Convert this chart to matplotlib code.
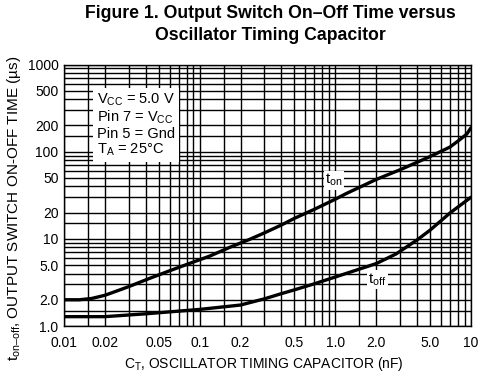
import numpy as np
import matplotlib
matplotlib.use("Agg")
import matplotlib.pyplot as plt
from matplotlib.ticker import FixedLocator, NullFormatter

plt.rcParams['font.family'] = ['Liberation Sans', 'DejaVu Sans']
plt.rcParams['mathtext.fontset'] = 'custom'
plt.rcParams['mathtext.rm'] = 'Liberation Sans'
plt.rcParams['mathtext.it'] = 'Liberation Sans'

# values
c_on = [0.01, 0.013, 0.016, 0.02, 0.025, 0.03, 0.043, 0.06, 0.085, 0.119, 0.167,
        0.235, 0.3, 0.4, 0.5, 0.7, 1.0, 1.2, 2.0, 3.0, 5.0, 7.0, 8.2, 9.3, 10.0]
t_on = [2.0, 2.0, 2.07, 2.25, 2.55, 2.83, 3.53, 4.3, 5.25, 6.35, 8.0,
        9.9, 11.7, 14.4, 17.2, 21.8, 28.5, 33, 48, 62, 88, 113, 136, 159, 188]

c_off = [0.01, 0.02, 0.04, 0.1, 0.2, 0.3, 0.4, 0.5, 0.7, 1.0, 2.0, 2.8,
         4.0, 5.0, 7.0, 10.0]
t_off = [1.28, 1.28, 1.38, 1.55, 1.74, 2.05, 2.35, 2.6, 3.05, 3.65, 5.2, 6.7,
         9.7, 12.6, 19.8, 30.0]

x_ticks = [0.01, 0.02, 0.05, 0.1, 0.2, 0.5, 1.0, 2.0, 5.0, 10.0]
x_labels = ['0.01', '0.02', '0.05', '0.1', '0.2', '0.5', '1.0', '2.0', '5.0', '10']
y_ticks = [1, 2, 5, 10, 20, 50, 100, 200, 500, 1000]
y_labels = ['1.0', '2.0', '5.0', '10', '20', '50', '100', '200', '500', '1000']

conditions = [r'V$_{\mathrm{CC}}$ = 5.0 V', r'Pin 7 = V$_{\mathrm{CC}}$',
              'Pin 5 = Gnd', r'T$_{\mathrm{A}}$ = 25°C']

fig = plt.figure(figsize=(4.89, 3.76), dpi=100)
ax = fig.add_axes([64 / 489, 1 - 326 / 376, 407 / 489, 261.5 / 376])
ax.set_xscale('log')
ax.set_yscale('log')
ax.set_xlim(0.01, 10)
ax.set_ylim(1, 1000)

# graph paper lines
mult = [1, 1.5, 2, 3, 4, 5, 6, 7, 8, 9]
xg = [m * d for d in [0.01, 0.1, 1] for m in mult] + [10]
yg = [m * d for d in [1, 10, 100] for m in mult] + [1000]
ax.xaxis.set_minor_locator(FixedLocator(xg))
ax.yaxis.set_minor_locator(FixedLocator(yg))
ax.xaxis.set_minor_formatter(NullFormatter())
ax.yaxis.set_minor_formatter(NullFormatter())
ax.grid(True, which='both', color='black', linewidth=1.0)
ax.set_axisbelow(True)

ax.set_xticks(x_ticks)
ax.set_xticklabels(x_labels)
ax.set_yticks(y_ticks)
ax.set_yticklabels(y_labels)
ax.tick_params(which='both', length=0, labelsize=10)
ax.tick_params(axis='x', pad=7)
ax.tick_params(axis='y', pad=4)
for s in ax.spines.values():
    s.set_color('black')
    s.set_linewidth(1.0)

ax.plot(c_on, t_on, color='black', linewidth=2.4, solid_capstyle='round')
ax.plot(c_off, t_off, color='black', linewidth=2.4, solid_capstyle='round')

ax.text(0.081, 0.895, '\n'.join(conditions), transform=ax.transAxes,
        fontsize=10.5, ha='left', va='top', linespacing=1.05,
        bbox=dict(facecolor='white', edgecolor='none', pad=3))

ax.text(0.84, 47, r't$_{\mathrm{on}}$', fontsize=11, ha='left', va='center',
        bbox=dict(facecolor='white', edgecolor='none', pad=1))
ax.text(1.74, 3.4, r't$_{\mathrm{off}}$', fontsize=11, ha='left', va='center',
        bbox=dict(facecolor='white', edgecolor='none', pad=1))

ax.set_xlabel(r'C$_{\mathrm{T}}$, OSCILLATOR TIMING CAPACITOR (nF)', fontsize=10)
ax.xaxis.set_label_coords(0.49, -0.11)
ax.set_ylabel(r't$_{\mathrm{on–off}}$, OUTPUT SWITCH ON-OFF TIME (µs)', fontsize=11)
ax.yaxis.set_label_coords(-0.10, 0.45)

fig.text(270 / 489, 1 - 14 / 376, 'Figure 1. Output Switch On–Off Time versus',
         fontsize=12.7, fontweight='bold', ha='center', va='center')
fig.text(270 / 489, 1 - 35 / 376, 'Oscillator Timing Capacitor',
         fontsize=12.7, fontweight='bold', ha='center', va='center')

fig.savefig('out.png', dpi=100)
